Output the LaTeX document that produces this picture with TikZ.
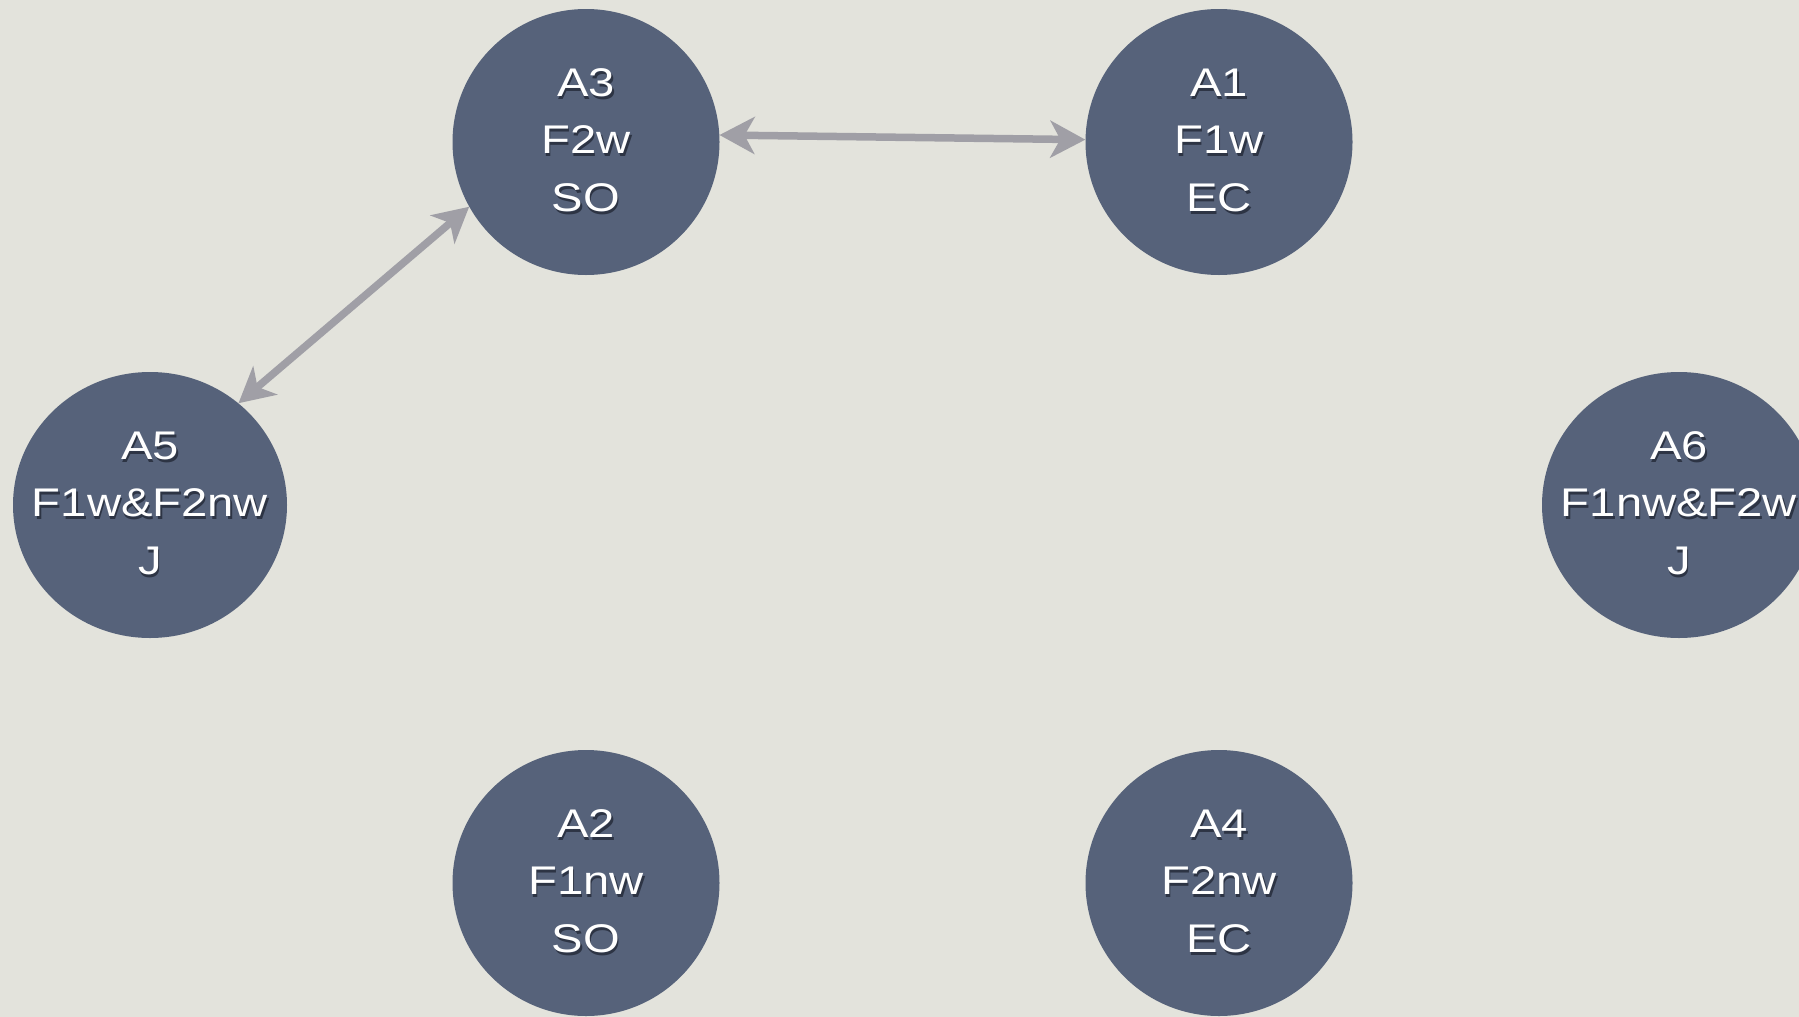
\documentclass[tikz,border=0pt]{standalone}
\usepackage{fontspec}
\setmainfont{Liberation Sans}
\newfontfamily\nodefont[FakeStretch=1.18]{Liberation Sans}
\usetikzlibrary{shapes.geometric,arrows.meta}
\definecolor{bg}{RGB}{227,227,220}
\definecolor{nodefill}{RGB}{86,98,122}
\definecolor{arrowgray}{RGB}{160,159,166}
\definecolor{shade}{RGB}{45,52,68}
\newcommand\shtxt[1]{\rlap{\kern1.5pt\raisebox{-3pt}{\textcolor{shade}{#1}}}#1}
\newcommand\threelines[3]{\makebox[0pt]{\begin{tabular}{@{}c@{}}\shtxt{#1}\\\shtxt{#2}\\\shtxt{#3}\end{tabular}}}
\begin{document}
\begin{tikzpicture}[x=1pt,y=-1pt,
  state/.style={ellipse, fill=nodefill, text=white, minimum width=267pt,
    minimum height=266pt, inner sep=0pt,
    font=\nodefont\fontsize{40}{57.5}\selectfont},
  wide/.style={minimum width=274pt},
  link/.style={draw=arrowgray, line width=7.5pt,
    {Stealth[length=35pt,width=37pt,inset=10pt]}-{Stealth[length=35pt,width=37pt,inset=10pt]}}]
\fill[bg] (0,0) rectangle (1799,1017);
\useasboundingbox (0,0) rectangle (1799,1017);
\node[state] (A3) at (586,142) {\threelines{A3}{F2w}{SO}};
\node[state] (A1) at (1219,142) {\threelines{A1}{F1w}{EC}};
\node[state,wide] (A5) at (150,505) {\threelines{A5}{F1w\&F2nw}{J}};
\node[state,wide] (A6) at (1679,505) {\threelines{A6}{F1nw\&F2w}{J}};
\node[state] (A2) at (586,883) {\threelines{A2}{F1nw}{SO}};
\node[state] (A4) at (1219,883) {\threelines{A4}{F2nw}{EC}};
\draw[link] (A3.3.5) -- (A1.179.2);
\draw[link] (A5.49.6) -- (A3.209.5);
\end{tikzpicture}
\end{document}
